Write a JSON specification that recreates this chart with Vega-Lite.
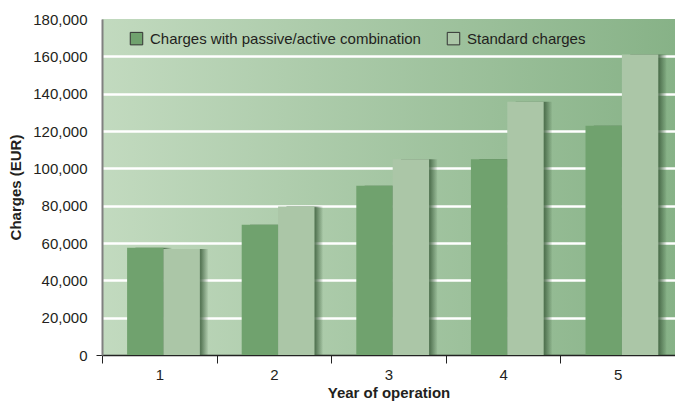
{
  "$schema": "https://vega.github.io/schema/vega-lite/v6.json",
  "width": 573,
  "height": 336,
  "autosize": {"type": "none"},
  "padding": {"left": 102, "top": 19, "right": 0, "bottom": 47},
  "background": "white",
  "config": {
    "font": "Liberation Sans",
    "view": {
      "stroke": null,
      "fill": {
        "gradient": "linear", "x1": 0, "x2": 1, "y1": 0, "y2": 0,
        "stops": [
          {"offset": 0, "color": "#c2dabf"},
          {"offset": 1, "color": "#87b287"}
        ]
      }
    }
  },
  "data": {
    "values": [
      {"year": "1", "series": "Charges with passive/active combination", "charges": 57500},
      {"year": "1", "series": "Standard charges", "charges": 56800},
      {"year": "2", "series": "Charges with passive/active combination", "charges": 69800},
      {"year": "2", "series": "Standard charges", "charges": 79500},
      {"year": "3", "series": "Charges with passive/active combination", "charges": 90700},
      {"year": "3", "series": "Standard charges", "charges": 104800},
      {"year": "4", "series": "Charges with passive/active combination", "charges": 104800},
      {"year": "4", "series": "Standard charges", "charges": 135700},
      {"year": "5", "series": "Charges with passive/active combination", "charges": 122800},
      {"year": "5", "series": "Standard charges", "charges": 161000}
    ]
  },
  "encoding": {
    "x": {
      "field": "year", "type": "ordinal",
      "scale": {"paddingInner": 0, "paddingOuter": 0},
      "axis": {
        "title": "Year of operation",
        "labelAngle": 0,
        "tickBand": "extent",
        "domainColor": "#222222",
        "domainWidth": 1.5,
        "tickColor": "#222222",
        "tickWidth": 1,
        "tickSize": 8,
        "labelPadding": 4,
        "labelFontSize": 15,
        "labelColor": "#231f20",
        "titleFontSize": 15,
        "titleFontWeight": "bold",
        "titleColor": "#231f20",
        "titlePadding": 3
      }
    },
    "y": {
      "field": "charges", "type": "quantitative",
      "scale": {"domain": [0, 180000], "nice": false},
      "axis": {
        "title": "Charges (EUR)",
        "values": [0, 20000, 40000, 60000, 80000, 100000, 120000, 140000, 160000, 180000],
        "format": ",.0f",
        "domainColor": "#808080",
        "domainWidth": 2,
        "tickSize": 6,
        "tickColor": {"condition": {"test": "datum.value == 0", "value": "#222222"}, "value": "transparent"},
        "labelPadding": 9,
        "labelFontSize": 15,
        "labelColor": "#231f20",
        "titleFontSize": 15,
        "titleFontWeight": "bold",
        "titleColor": "#231f20",
        "titlePadding": 9,
        "grid": true,
        "gridColor": {"condition": {"test": "datum.value == 180000 || datum.value == 0", "value": "transparent"}, "value": "white"},
        "gridWidth": 2.5
      }
    }
  },
  "resolve": {"scale": {"xOffset": "independent"}},
  "layer": [
    {
      "mark": {
        "type": "bar",
        "fill": {
          "gradient": "linear", "x1": 0, "x2": 1, "y1": 0, "y2": 0,
          "stops": [
            {"offset": 0, "color": "rgba(65,98,65,0.8)"},
            {"offset": 0.8, "color": "rgba(65,98,65,0.8)"},
            {"offset": 1, "color": "rgba(65,98,65,0.05)"}
          ]
        }
      },
      "encoding": {
        "xOffset": {
          "field": "series", "type": "nominal",
          "sort": ["Charges with passive/active combination", "Standard charges"],
          "scale": {"paddingInner": 0, "paddingOuter": 0.575, "align": 0.8}
        }
      }
    },
    {
      "mark": {"type": "bar"},
      "encoding": {
        "xOffset": {
          "field": "series", "type": "nominal",
          "sort": ["Charges with passive/active combination", "Standard charges"],
          "scale": {"paddingInner": 0, "paddingOuter": 0.575, "align": 0.6}
        },
        "color": {
          "field": "series", "type": "nominal",
          "sort": ["Charges with passive/active combination", "Standard charges"],
          "scale": {"range": ["#70a26e", "#abc6a7"]},
          "legend": {
            "orient": "none",
            "legendX": 27,
            "legendY": 12,
            "direction": "horizontal",
            "title": null,
            "labelFontSize": 15,
            "labelLimit": 400,
            "labelColor": "#231f20",
            "symbolType": "square",
            "symbolSize": 156,
            "symbolStrokeColor": "#333333",
            "symbolStrokeWidth": 1,
            "symbolOpacity": 1,
            "columnPadding": 24,
            "labelOffset": 6
          }
        }
      }
    }
  ]
}
